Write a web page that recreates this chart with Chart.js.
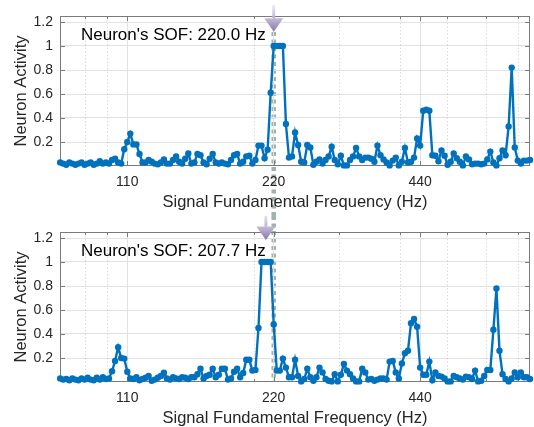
<!DOCTYPE html>
<html>
<head>
<meta charset="utf-8">
<script src="https://cdn.jsdelivr.net/npm/chart.js@4"></script>
<style>
  html, body { margin: 0; padding: 0; background: #fff; overflow: hidden; }
  #wrap { position: relative; width: 534px; height: 427px; }
  canvas { position: absolute; left: 0; }
</style>
</head>
<body>
<div id="wrap">
  <canvas id="topChart" width="534" height="216" style="top:0"></canvas>
  <canvas id="bottomChart" width="534" height="216" style="top:216px"></canvas>
</div>
<script>
// signal fundamental frequencies (Hz), quarter-semitone grid
const freqs = [
  80.06, 81.22,
  82.41, 83.61, 84.82, 86.06, 87.31, 88.58, 89.87, 91.18,
  92.50, 93.85, 95.21, 96.60, 98.00, 99.43, 100.87, 102.34,
  103.83, 105.34, 106.87, 108.43, 110.00, 111.60, 113.22, 114.87,
  116.54, 118.24, 119.96, 121.70, 123.47, 125.27, 127.09, 128.94,
  130.81, 132.71, 134.64, 136.60, 138.59, 140.61, 142.65, 144.73,
  146.83, 148.97, 151.13, 153.33, 155.56, 157.82, 160.12, 162.45,
  164.81, 167.21, 169.64, 172.11, 174.61, 177.15, 179.73, 182.35,
  185.00, 187.69, 190.42, 193.19, 196.00, 198.85, 201.74, 204.68,
  207.65, 210.67, 213.74, 216.85, 220.00, 223.20, 226.45, 229.74,
  233.08, 236.47, 239.91, 243.40, 246.94, 250.53, 254.18, 257.88,
  261.63, 265.43, 269.29, 273.21, 277.18, 281.21, 285.30, 289.45,
  293.66, 297.93, 302.27, 306.67, 311.13, 315.66, 320.25, 324.91,
  329.63, 334.42, 339.29, 344.22, 349.23, 354.31, 359.46, 364.69,
  369.99, 375.37, 380.83, 386.37, 392.00, 397.70, 403.48, 409.35,
  415.30, 421.34, 427.47, 433.69, 440.00, 446.40, 452.89, 459.48,
  466.16, 472.94, 479.82, 486.80, 493.88, 501.06, 508.35, 515.75,
  523.25, 530.86, 538.58, 546.42, 554.37, 562.43, 570.61, 578.91,
  587.33, 595.87, 604.54, 613.33, 622.25, 631.30, 640.49, 649.80,
  659.26, 668.85, 678.58, 688.45, 698.46, 708.62, 718.92, 729.38,
  739.99
];

// neuron activity, top panel (SOF 220.0 Hz)
const activityTop = [
  0.03, 0.02, 0.01, 0.03, 0.02, 0.01, 0.02, 0.03, 0.01, 0.02, 0.03, 0.01, 0.02, 0.04, 0.02, 0.03, 0.02, 0.05, 0.06, 0.03, 0.02,
  0.14, 0.20, 0.27, 0.18, 0.18, 0.10, 0.03,
  0.03, 0.05, 0.035, 0.02, 0.015, 0.03, 0.055, 0.02, 0.02, 0.05, 0.08, 0.035, 0.02, 0.06,
  0.105, 0.02, 0.03, 0.10, 0.09, 0.03, 0.015, 0.06, 0.10, 0.03, 0.02, 0.03, 0.02, 0.015, 0.05, 0.09, 0.10, 0.02, 0.035, 0.08, 0.085, 0.02, 0.05, 0.17, 0.17, 0.065, 0.135,
  0.61, 1, 1, 1, 1, 0.35,
  0.07, 0.08, 0.28, 0.175, 0.035, 0.03, 0.175, 0.155, 0.01, 0.035, 0.055, 0.02, 0.05, 0.08, 0.16, 0.05, 0.015, 0.085, 0.005, 0.005, 0.05, 0.08, 0.15, 0.08, 0.05, 0.07, 0.07, 0.06,
  0.035, 0.17, 0.09, 0.055, 0.03, 0.005, 0.045, 0.07, 0.005, 0.035, 0.15, 0.03, 0.035, 0.07, 0.23, 0.17, 0.46, 0.47, 0.46, 0.09,
  0.085, 0.04, 0.13, 0.085, 0.01, 0.035, 0.105, 0.065, 0.035, 0.005, 0.08, 0.055, 0.015, 0.02, 0.02, 0.015, 0.02, 0.055, 0.12, 0.03,
  0.005, 0.065, 0.13, 0.09, 0.33, 0.82, 0.155, 0.045, 0.02, 0.045, 0.045, 0.05
];

// neuron activity, bottom panel (SOF 207.7 Hz)
const activityBottom = [
  0.03, 0.02, 0.025, 0.015, 0.03, 0.02, 0.015, 0.03, 0.02, 0.035, 0.02, 0.015, 0.035, 0.02, 0.04, 0.025, 0.03,
  0.09, 0.175, 0.29, 0.20, 0.195, 0.085,
  0.03, 0.025, 0.04, 0.015, 0.025, 0.035, 0.05, 0.01, 0.02, 0.035, 0.05, 0.077, 0.03, 0.02, 0.04, 0.03, 0.025, 0.04, 0.035, 0.025, 0.04, 0.04, 0.065, 0.11, 0.03, 0.05, 0.06, 0.11,
  0.04, 0.06, 0.11, 0.11, 0.02, 0.03, 0.085, 0.11, 0.04, 0.075, 0.185, 0.185, 0.095, 0.10,
  0.45, 1, 1, 1, 1, 0.48,
  0.095, 0.095, 0.195, 0.12, 0.04, 0.04, 0.185, 0.05, 0.005, 0.025, 0.11, 0.04, 0.01, 0.04, 0.12, 0.08, 0.025, 0.01, 0.005, 0.065,
  0.005, 0.06, 0.15, 0.095, 0.065, 0.03, 0.005, 0.005, 0.11, 0.08, 0.02,
  0.025, 0.01, 0.02, 0.03, 0.03, 0.02, 0.17, 0.175, 0.08, 0.03, 0.155, 0.24, 0.26, 0.49, 0.525, 0.46,
  0.12, 0.06, 0.06, 0.17, 0.015, 0.08, 0.05, 0.045, 0.03, 0.005, 0.005, 0.05, 0.04, 0.03, 0.02, 0.045, 0.04, 0.025, 0.095,
  0.005, 0.01, 0.05, 0.1, 0.1, 0.435, 0.78, 0.26, 0.065, 0.025, 0.005, 0.03, 0.08, 0.04, 0.08, 0.04, 0.04, 0.025
];

const xTicks = [110, 220, 440];
const xMinorTicks = [90, 100, 200, 300, 400, 500, 600, 700];
const yTicks = [0.2, 0.4, 0.6, 0.8, 1, 1.2];
const yTickLabels = ['0.2', '0.4', '0.6', '0.8', '1', '1.2'];
const sofLabels = ["Neuron's SOF: 220.0 Hz", "Neuron's SOF: 207.7 Hz"];
const arrowFreqs = [220, 212];
const refFreq = 220;

const FONT = "'Liberation Sans', Arial, Helvetica, sans-serif";
const BLUE = '#0072BD';

function line(ctx, x1, y1, x2, y2) {
  ctx.beginPath(); ctx.moveTo(x1, y1); ctx.lineTo(x2, y2); ctx.stroke();
}

function drawArrow(ctx, x, tipY) {
  const triH = 13.5, triW = 19, shaftH = 13;
  const baseY = tipY - triH;
  const g = ctx.createLinearGradient(0, baseY - shaftH, 0, baseY);
  g.addColorStop(0, 'rgba(205,196,225,0.35)');
  g.addColorStop(1, 'rgba(190,178,215,1)');
  ctx.fillStyle = g;
  ctx.fillRect(x - 1.5, baseY - shaftH, 3, shaftH);
  const g2 = ctx.createLinearGradient(0, baseY, 0, tipY);
  g2.addColorStop(0, '#c4bad9');
  g2.addColorStop(1, '#8878a6');
  ctx.fillStyle = g2;
  ctx.beginPath();
  ctx.moveTo(x - triW / 2, baseY);
  ctx.lineTo(x + triW / 2, baseY);
  ctx.lineTo(x, tipY);
  ctx.closePath();
  ctx.fill();
}

const decor = {
  id: 'decor',
  beforeDraw(chart, args, opts) {
    // dashed reference line at 220 Hz, runs through both panels
    const ctx = chart.ctx;
    const x = chart.scales.x.getPixelForValue(refFreq);
    ctx.save();
    ctx.strokeStyle = '#9db3ac';
    ctx.lineWidth = 4.5;
    ctx.setLineDash([4, 3.5]);
    const y2 = opts.toAxis ? chart.chartArea.bottom : chart.height;
    line(ctx, x, opts.lineFrom, x, y2);
    ctx.restore();
  },
  beforeDatasetsDraw(chart) {
    const ctx = chart.ctx, a = chart.chartArea;
    const xs = chart.scales.x, ys = chart.scales.y;
    ctx.save();
    // minor grid (dotted)
    ctx.strokeStyle = 'rgba(0,0,0,0.14)';
    ctx.lineWidth = 1;
    ctx.setLineDash([1.5, 2]);
    xMinorTicks.forEach(v => {
      const x = Math.round(xs.getPixelForValue(v)) + 0.5;
      line(ctx, x, a.top, x, a.bottom);
    });
    ctx.setLineDash([]);
    // box
    ctx.strokeStyle = '#7a7a7a';
    const L = Math.round(a.left) + 0.5, R = Math.round(a.right) - 0.5;
    const T = Math.round(a.top) + 0.5, B = Math.round(a.bottom) - 0.5;
    ctx.strokeRect(L, T, R - L, B - T);
    // inward ticks
    xTicks.forEach(v => {
      const x = Math.round(xs.getPixelForValue(v)) + 0.5;
      line(ctx, x, B, x, B - 4.5); line(ctx, x, T, x, T + 4.5);
    });
    xMinorTicks.forEach(v => {
      const x = Math.round(xs.getPixelForValue(v)) + 0.5;
      line(ctx, x, B, x, B - 2.5); line(ctx, x, T, x, T + 2.5);
    });
    yTicks.forEach(v => {
      const y = Math.round(ys.getPixelForValue(v)) + 0.5;
      line(ctx, L, y, L + 4.5, y); line(ctx, R, y, R - 4.5, y);
    });
    ctx.restore();
  },
  afterDatasetsDraw(chart, args, opts) {
    const ctx = chart.ctx, a = chart.chartArea;
    ctx.save();
    ctx.font = '17px ' + FONT;
    ctx.fillStyle = '#000';
    ctx.textBaseline = 'alphabetic';
    ctx.fillText(opts.label, a.left + 21, a.top + 24);
    drawArrow(ctx, chart.scales.x.getPixelForValue(opts.arrowFreq), opts.arrowTip);
    ctx.restore();
  }
};

function makeChart(id, values, idx, decorOpts) {
  return new Chart(document.getElementById(id), {
    type: 'line',
    data: {
      datasets: [{
        data: freqs.map((f, i) => ({ x: f, y: values[i] })),
        borderColor: BLUE,
        backgroundColor: BLUE,
        pointBackgroundColor: BLUE,
        borderWidth: 2.4,
        pointRadius: 3.2,
        pointBorderWidth: 0,
        tension: 0,
        clip: 5
      }]
    },
    options: {
      responsive: false,
      animation: false,
      devicePixelRatio: 1,
      layout: { padding: { top: 16, right: 3, left: 0, bottom: 0 } },
      plugins: {
        legend: { display: false },
        tooltip: { enabled: false },
        decor: Object.assign({ label: sofLabels[idx], arrowFreq: arrowFreqs[idx] }, decorOpts)
      },
      scales: {
        x: {
          type: 'logarithmic',
          min: 80,
          max: 740,
          afterBuildTicks: s => { s.ticks = xTicks.map(v => ({ value: v })); },
          afterFit: s => { s.height = 50; },
          grid: { color: '#e2e2e2', drawTicks: false },
          border: { display: false },
          ticks: {
            autoSkip: false, maxRotation: 0, padding: 8,
            color: '#262626', font: { size: 14, family: FONT },
            callback: (v, i) => String(xTicks[i])
          },
          title: {
            display: true, text: 'Signal Fundamental Frequency (Hz)',
            color: '#262626', font: { size: 16.5, family: FONT },
            padding: { top: 0, bottom: 4 }
          }
        },
        y: {
          min: 0,
          max: 1.25,
          afterBuildTicks: s => { s.ticks = yTicks.map(v => ({ value: v })); },
          afterFit: s => { s.width = 60; },
          grid: { color: '#e2e2e2', drawTicks: false },
          border: { display: false },
          ticks: {
            padding: 7, color: '#262626', font: { size: 14, family: FONT },
            callback: (v, i) => yTickLabels[i]
          },
          title: {
            display: true, text: 'Neuron Activity',
            color: '#262626', font: { size: 16.5, family: FONT },
            padding: { top: 11.7, bottom: 0 }
          }
        }
      }
    },
    plugins: [decor]
  });
}

makeChart('topChart', activityTop, 0, { lineFrom: 32, toAxis: false, arrowTip: 31.7 });
makeChart('bottomChart', activityBottom, 1, { lineFrom: 0, toAxis: true, arrowTip: 24 });
</script>
</body>
</html>
